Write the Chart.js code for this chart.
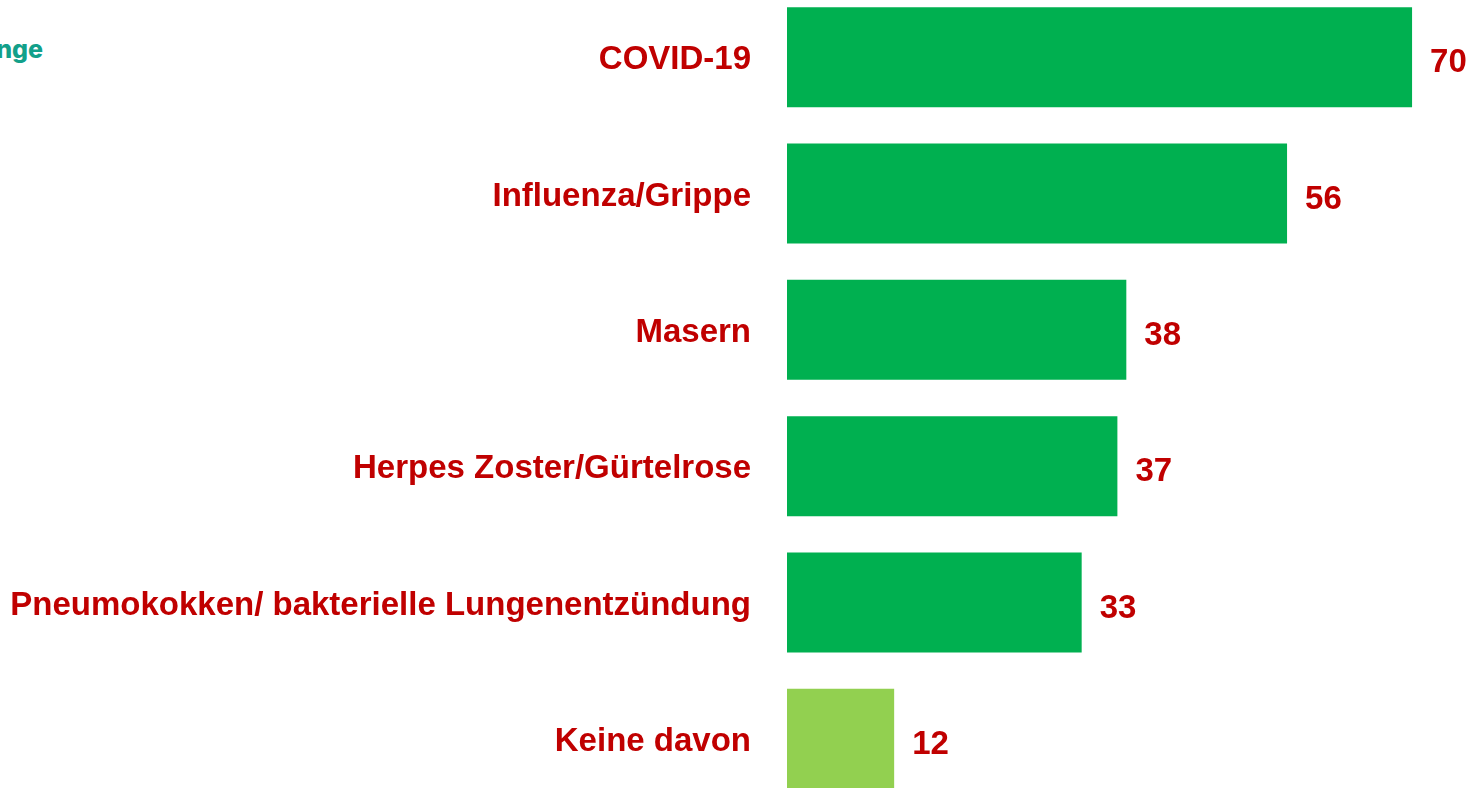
<!DOCTYPE html>
<html>
<head>
<meta charset="utf-8">
<script src="https://cdn.jsdelivr.net/npm/chart.js@4.4.1/dist/chart.umd.min.js"></script>
<style>
  html, body { margin: 0; padding: 0; background: #fff; width: 1471px; height: 788px; overflow: hidden; position: relative; }
  #c { position: absolute; left: 0; top: -11px; }
  #corner { position: absolute; right: calc(1471px - 43px); top: 34px; font-family: "Inter", "Open Sans", sans-serif; font-weight: 800; font-size: 25px; color: #12a08a; white-space: nowrap; }
</style>
</head>
<body>
<div id="corner">nge</div>
<canvas id="c" width="1471" height="818"></canvas>
<script>
const categories = ["COVID-19", "Influenza/Grippe", "Masern", "Herpes Zoster/Gürtelrose", "Pneumokokken/ bakterielle Lungenentzündung", "Keine davon"];
const values = [70, 56, 38, 37, 33, 12];
const barColors = ["#00b050", "#00b050", "#00b050", "#00b050", "#00b050", "#92d050"];

const labelFont = { family: "'Liberation Sans', Arial, sans-serif", weight: "bold", size: 33 };

const valueLabels = {
  id: 'valueLabels',
  afterDatasetsDraw(chart) {
    const ctx = chart.ctx;
    const meta = chart.getDatasetMeta(0);
    ctx.save();
    ctx.font = "bold 33px 'Liberation Sans', Arial, sans-serif";
    ctx.fillStyle = "#c00000";
    ctx.textAlign = "left";
    ctx.textBaseline = "middle";
    meta.data.forEach((bar, i) => {
      ctx.fillText(String(values[i]), bar.x + 18, bar.y + 6);
    });
    ctx.restore();
  }
};

new Chart(document.getElementById('c'), {
  type: 'bar',
  data: {
    labels: categories,
    datasets: [{
      data: values,
      backgroundColor: barColors,
      borderWidth: 0,
      barPercentage: 0.733,
      categoryPercentage: 1.0
    }]
  },
  options: {
    indexAxis: 'y',
    responsive: false,
    maintainAspectRatio: false,
    animation: false,
    layout: { padding: 0 },
    plugins: { legend: { display: false }, tooltip: { enabled: false }, title: { display: false } },
    scales: {
      x: { display: false, min: 0, max: 76.6 },
      y: {
        grid: { display: false },
        border: { display: false },
        ticks: { color: "#c00000", font: labelFont, padding: 28, labelOffset: 3 },
        afterFit(scale) { scale.width = 787; scale.paddingTop = 0; scale.paddingBottom = 0; }
      }
    }
  },
  plugins: [valueLabels]
});
</script>
</body>
</html>
